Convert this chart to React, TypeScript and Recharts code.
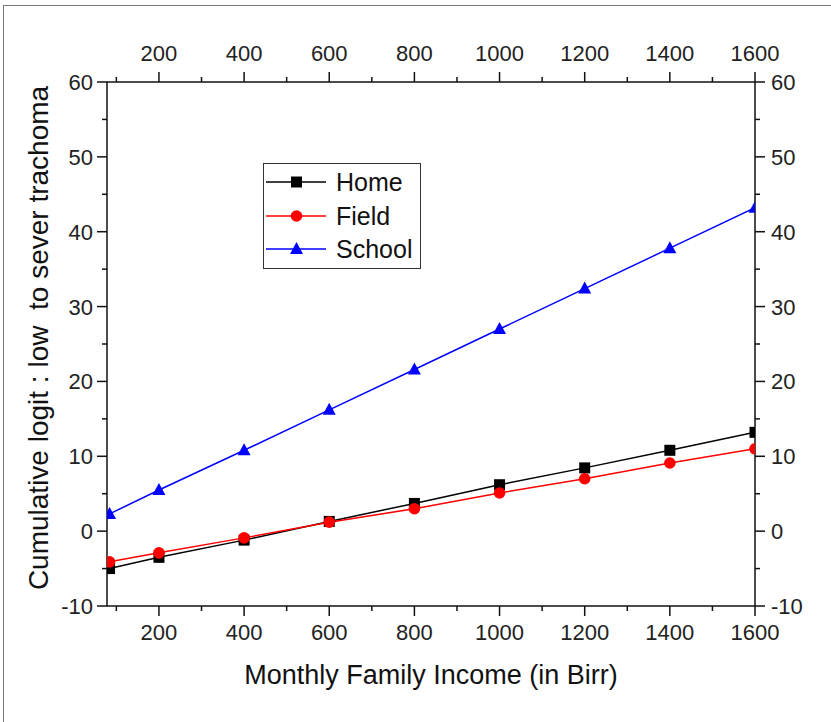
import { Line, LineChart, XAxis, YAxis } from "recharts";

const INCOME = [84, 200, 400, 600, 800, 1000, 1200, 1400, 1600];
const HOME = [-5.0, -3.5, -1.2, 1.3, 3.7, 6.2, 8.45, 10.8, 13.2];
const FIELD = [-4.1, -2.9, -0.9, 1.2, 3.0, 5.1, 7.0, 9.1, 11.0];
const SCHOOL = [2.3, 5.5, 10.8, 16.2, 21.6, 27.0, 32.4, 37.8, 43.2];

const X_TICKS = [100, 200, 300, 400, 500, 600, 700, 800, 900, 1000, 1100, 1200, 1300, 1400, 1500, 1600];
const Y_TICKS = [-10, -5, 0, 5, 10, 15, 20, 25, 30, 35, 40, 45, 50, 55, 60];

const data = INCOME.map((x, i) => ({
  x,
  home: HOME[i],
  field: FIELD[i],
  school: SCHOOL[i],
}));

const FONT = '"Liberation Sans", Arial, sans-serif';
const TICK_COLOR = "#222";

function xTick(side: "top" | "bottom") {
  return (props: any) => {
    const { x, y, payload } = props;
    const major = payload.value % 200 === 0;
    const dir = side === "bottom" ? 1 : -1;
    return (
      <g>
        <line x1={x} x2={x} y1={y} y2={y + dir * (major ? 10 : 5)} stroke="#111" strokeWidth={1.5} />
        {major && (
          <text
            x={x}
            y={side === "bottom" ? y + 34 : y - 21.5}
            textAnchor="middle"
            fontSize={22}
            fontFamily={FONT}
            fill={TICK_COLOR}
          >
            {payload.value}
          </text>
        )}
      </g>
    );
  };
}

function yTick(side: "left" | "right") {
  return (props: any) => {
    const { x, y, payload } = props;
    const major = payload.value % 10 === 0;
    const dir = side === "right" ? 1 : -1;
    return (
      <g>
        <line x1={x} x2={x + dir * (major ? 10 : 5)} y1={y} y2={y} stroke="#111" strokeWidth={1.5} />
        {major && (
          <text
            x={side === "right" ? x + 16 : x - 14}
            y={y + 8}
            textAnchor={side === "right" ? "start" : "end"}
            fontSize={22}
            fontFamily={FONT}
            fill={TICK_COLOR}
          >
            {payload.value}
          </text>
        )}
      </g>
    );
  };
}

const squareDot = (props: any) => {
  const { cx, cy, index } = props;
  return <rect key={index} x={cx - 5.5} y={cy - 5.5} width={11} height={11} fill="#000" />;
};
const circleDot = (props: any) => {
  const { cx, cy, index } = props;
  return <circle key={index} cx={cx} cy={cy} r={5.8} fill="#ff0000" />;
};
const triangleDot = (props: any) => {
  const { cx, cy, index } = props;
  return (
    <polygon
      key={index}
      points={`${cx},${cy - 7} ${cx - 6.5},${cy + 5} ${cx + 6.5},${cy + 5}`}
      fill="#0000ff"
    />
  );
};

const axisLine = { stroke: "#111", strokeWidth: 1.5 };

function LegendRow({ label, color, marker, top }: { label: string; color: string; marker: string; top: number }) {
  return (
    <div style={{ position: "absolute", left: 0, top, height: 30, display: "flex", alignItems: "center" }}>
      <svg width={66} height={30} style={{ display: "block" }}>
        <line x1={2} x2={62} y1={15} y2={15} stroke={color} strokeWidth={1.5} />
        {marker === "square" && <rect x={27} y={9.5} width={11} height={11} fill={color} />}
        {marker === "circle" && <circle cx={32.5} cy={15} r={5.8} fill={color} />}
        {marker === "triangle" && <polygon points="32.5,8 26,20 39,20" fill={color} />}
      </svg>
      <span style={{ fontFamily: FONT, fontSize: 25, color: "#111", marginLeft: 6, lineHeight: "30px" }}>{label}</span>
    </div>
  );
}

export default function App() {
  return (
    <div style={{ position: "absolute", left: 0, top: 0, width: 831, height: 722, background: "#fff" }}>
      <div
        style={{
          position: "absolute",
          left: 3,
          top: 5,
          width: 828,
          height: 717,
          borderTop: "1px solid #777",
          borderLeft: "1px solid #777",
        }}
      />
      <LineChart width={831} height={722} data={data} margin={{ top: 81, right: 75, bottom: 115, left: 106 }}>
        <XAxis
          xAxisId="bottom"
          dataKey="x"
          type="number"
          orientation="bottom"
          domain={[78, 1600]}
          ticks={X_TICKS}
          interval={0}
          height={1}
          tickSize={0}
          tickMargin={0}
          axisLine={axisLine}
          tickLine={false}
          tick={xTick("bottom")}
          allowDataOverflow
        />
        <XAxis
          xAxisId="top"
          dataKey="x"
          type="number"
          orientation="top"
          domain={[78, 1600]}
          ticks={X_TICKS}
          interval={0}
          height={1}
          tickSize={0}
          tickMargin={0}
          axisLine={axisLine}
          tickLine={false}
          tick={xTick("top")}
          allowDataOverflow
        />
        <YAxis
          yAxisId="left"
          type="number"
          orientation="left"
          domain={[-10, 60]}
          ticks={Y_TICKS}
          interval={0}
          width={1}
          tickSize={0}
          tickMargin={0}
          axisLine={axisLine}
          tickLine={false}
          tick={yTick("left")}
          allowDataOverflow
        />
        <YAxis
          yAxisId="right"
          type="number"
          orientation="right"
          domain={[-10, 60]}
          ticks={Y_TICKS}
          interval={0}
          width={1}
          tickSize={0}
          tickMargin={0}
          axisLine={axisLine}
          tickLine={false}
          tick={yTick("right")}
          allowDataOverflow
        />
        <Line
          xAxisId="top"
          yAxisId="right"
          dataKey="home"
          stroke="none"
          dot={false}
          activeDot={false}
          legendType="none"
          isAnimationActive={false}
        />
        <Line
          xAxisId="bottom"
          yAxisId="left"
          dataKey="home"
          stroke="#000"
          strokeWidth={1.5}
          dot={squareDot}
          activeDot={false}
          isAnimationActive={false}
        />
        <Line
          xAxisId="bottom"
          yAxisId="left"
          dataKey="field"
          stroke="#ff0000"
          strokeWidth={1.5}
          dot={circleDot}
          activeDot={false}
          isAnimationActive={false}
        />
        <Line
          xAxisId="bottom"
          yAxisId="left"
          dataKey="school"
          stroke="#0000ff"
          strokeWidth={1.5}
          dot={triangleDot}
          activeDot={false}
          isAnimationActive={false}
        />
      </LineChart>

      <div
        style={{
          position: "absolute",
          left: 263,
          top: 163,
          width: 156,
          height: 104,
          border: "1.5px solid #333",
          background: "#fff",
        }}
      >
        <LegendRow label="Home" color="#000" marker="square" top={3} />
        <LegendRow label="Field" color="#ff0000" marker="circle" top={37} />
        <LegendRow label="School" color="#0000ff" marker="triangle" top={70} />
      </div>

      <div
        style={{
          position: "absolute",
          left: 0,
          width: 862,
          top: 658,
          textAlign: "center",
          fontFamily: FONT,
          fontSize: 27,
          color: "#111",
          lineHeight: "34px",
        }}
      >
        Monthly Family Income (in Birr)
      </div>

      <div
        style={{
          position: "absolute",
          left: 39,
          top: 338,
          transform: "translate(-50%, -50%) rotate(-90deg)",
          whiteSpace: "pre",
          fontFamily: FONT,
          fontSize: 28,
          color: "#111",
          lineHeight: "34px",
        }}
      >
        {"Cumulative logit : low  to sever trachoma"}
      </div>
    </div>
  );
}
